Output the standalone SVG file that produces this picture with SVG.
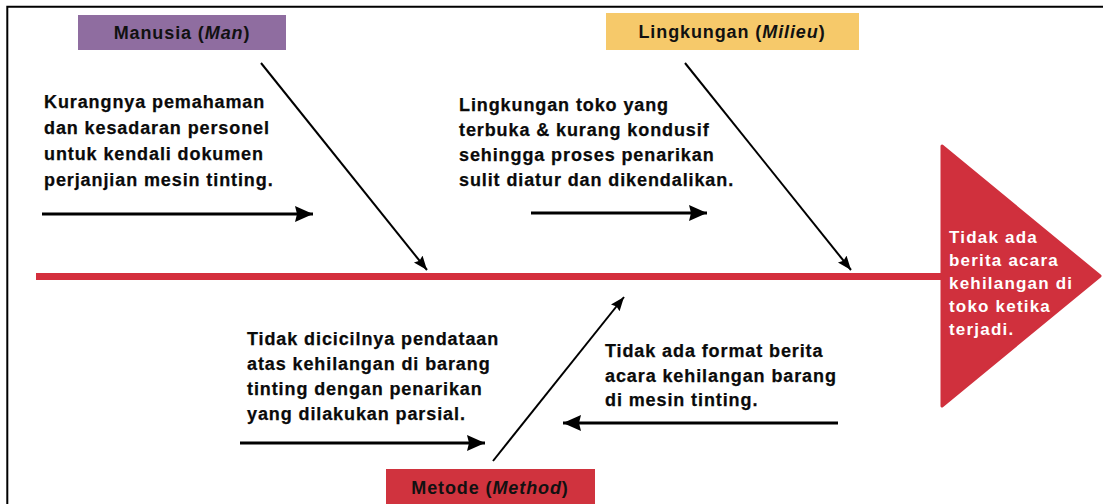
<svg xmlns="http://www.w3.org/2000/svg" width="1103" height="504" viewBox="0 0 1103 504">
<defs>
<style>
.t{font-family:"Liberation Sans",Arial,sans-serif;font-weight:bold;font-size:18px;letter-spacing:0.9px;fill:#0a0a0a;stroke:#0a0a0a;stroke-width:0.25px}
.h{font-family:"Liberation Sans",Arial,sans-serif;font-weight:bold;font-size:17px;letter-spacing:1.2px;fill:#fff}
.lab{font-family:"Liberation Sans",Arial,sans-serif;font-weight:bold;font-size:18px;letter-spacing:0.9px;fill:#111;text-anchor:middle}
.d{stroke:#000;stroke-width:2;fill:none}
.hz{stroke:#000;stroke-width:3;fill:none}
</style>
<marker id="ah" markerUnits="userSpaceOnUse" markerWidth="16" markerHeight="12" refX="14" refY="5.5" orient="auto">
<path d="M0,0 L14,5.5 L0,11 L2,5.5 Z" fill="#000"/>
</marker>
<marker id="ahb" markerUnits="userSpaceOnUse" markerWidth="20" markerHeight="18" refX="18" refY="8" orient="auto">
<path d="M0,0 L18,8 L0,16 L2,8 Z" fill="#000"/>
</marker>
</defs>
<rect width="1103" height="504" fill="#fff"/>
<path d="M7.3,504 V6.7 H1103" stroke="#000" stroke-width="2" fill="none"/>

<g id="spine">
<rect x="36" y="273" width="910" height="7" fill="#D42F3D"/>
</g>
<g id="head">
<path d="M942,146 L1100,276 L942,406 Z" fill="#D0303D" stroke="#D0303D" stroke-width="3" stroke-linejoin="round"/>
<text class="h" x="949" y="243">Tidak ada</text>
<text class="h" x="949" y="266">berita acara</text>
<text class="h" x="949" y="289">kehilangan di</text>
<text class="h" x="949" y="312">toko ketika</text>
<text class="h" x="949" y="335">terjadi.</text>
</g>

<g id="manusia">
<rect x="78" y="15" width="208" height="35" fill="#8F6DA0"/>
<text class="lab" x="182" y="39">Manusia (<tspan font-style="italic">Man</tspan>)</text>
</g>
<g id="lingkungan">
<rect x="606" y="13" width="253" height="37" fill="#F6C96A"/>
<text class="lab" x="732" y="38">Lingkungan (<tspan font-style="italic">Milieu</tspan>)</text>
</g>
<g id="metode">
<rect x="386" y="469" width="209" height="40" fill="#D0333E"/>
<text class="lab" x="490" y="494">Metode (<tspan font-style="italic">Method</tspan>)</text>
</g>

<g id="cause-man">
<text class="t" x="44" y="108">Kurangnya pemahaman</text>
<text class="t" x="44" y="134">dan kesadaran personel</text>
<text class="t" x="44" y="160">untuk kendali dokumen</text>
<text class="t" x="44" y="186">perjanjian mesin tinting.</text>
</g>
<g id="cause-milieu">
<text class="t" x="459" y="111">Lingkungan toko yang</text>
<text class="t" x="459" y="136">terbuka &amp; kurang kondusif</text>
<text class="t" x="459" y="161">sehingga proses penarikan</text>
<text class="t" x="459" y="186">sulit diatur dan dikendalikan.</text>
</g>
<g id="cause-method-1">
<text class="t" x="247" y="345">Tidak dicicilnya pendataan</text>
<text class="t" x="247" y="370">atas kehilangan di barang</text>
<text class="t" x="247" y="395">tinting dengan penarikan</text>
<text class="t" x="247" y="420">yang dilakukan parsial.</text>
</g>
<g id="cause-method-2">
<text class="t" x="605" y="357">Tidak ada format berita</text>
<text class="t" x="605" y="382">acara kehilangan barang</text>
<text class="t" x="605" y="406">di mesin tinting.</text>
</g>

<g id="connectors">
<line class="d" x1="261" y1="63" x2="427" y2="270" marker-end="url(#ah)"/>
<line class="d" x1="685" y1="63" x2="851" y2="270" marker-end="url(#ah)"/>
<line class="d" x1="493" y1="461" x2="624" y2="297" marker-end="url(#ah)"/>
<line class="hz" x1="42" y1="214" x2="313" y2="214" marker-end="url(#ahb)"/>
<line class="hz" x1="531" y1="213" x2="707" y2="213" marker-end="url(#ahb)"/>
<line class="hz" x1="240" y1="443" x2="485" y2="443" marker-end="url(#ahb)"/>
<line class="hz" x1="838" y1="423" x2="563" y2="423" marker-end="url(#ahb)"/>
</g>
</svg>
